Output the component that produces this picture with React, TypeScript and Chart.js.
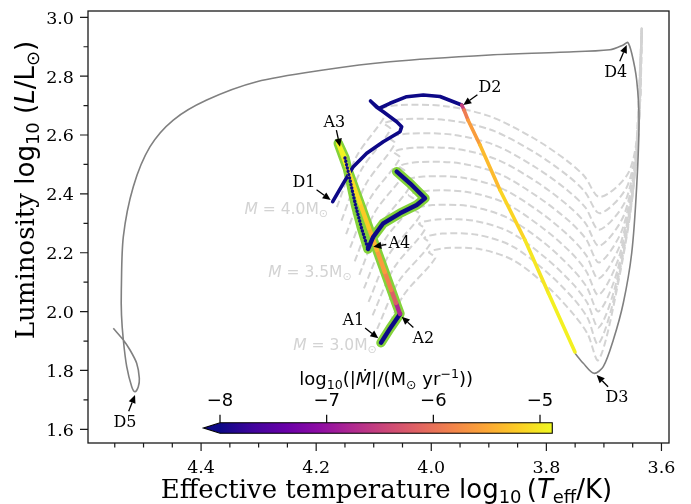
import React, { useEffect, useRef } from 'react';
import { Chart, registerables } from 'chart.js';
Chart.register(...registerables);

// ---------------- axes ----------------
const xLimits = [3.5869, 4.5965];
const yLimits = [1.5535, 3.0214];
const xMajorTicks = [4.4, 4.2, 4.0, 3.8, 3.6];
const xTickLabels = ['4.4', '4.2', '4.0', '3.8', '3.6'];
const xMinorTicks = [4.55, 4.5, 4.45, 4.35, 4.3, 4.25, 4.15, 4.1, 4.05, 3.95, 3.9, 3.85, 3.75, 3.7, 3.65];
const yMajorTicks = [1.6, 1.8, 2.0, 2.2, 2.4, 2.6, 2.8, 3.0];
const yTickLabels = ['1.6', '1.8', '2.0', '2.2', '2.4', '2.6', '2.8', '3.0'];
const yMinorTicks = [1.7, 1.9, 2.1, 2.3, 2.5, 2.7, 2.9];

// ---------------- colour bar ----------------
const cbarRange = [-8, -4.885];
const cbarTicks = [-8, -7, -6, -5];
const cbarTickLabels = ['\u22128', '\u22127', '\u22126', '\u22125'];

// ---------------- grey solid track (donor after mass transfer) ----------------
const greyTrackX = [3.7503, 3.7358, 3.7173, 3.7011, 3.6837, 3.6663, 3.6517, 3.6431, 3.639, 3.6431, 3.6517, 3.6587, 3.6663, 3.6895, 3.7763, 3.898, 4.0717, 4.1876, 4.3033, 4.3902, 4.4483, 4.4887, 4.5178, 4.5351, 4.5386, 4.5383, 4.5351, 4.5292, 4.5205, 4.5148, 4.5091, 4.5073, 4.5119, 4.5235, 4.5351, 4.5525];
const greyTrackY = [1.8583, 1.8243, 1.7903, 1.8128, 1.9035, 2.0292, 2.1991, 2.4244, 2.651, 2.787, 2.8777, 2.915, 2.9059, 2.8896, 2.8811, 2.8719, 2.8491, 2.8209, 2.7812, 2.719, 2.651, 2.5603, 2.4244, 2.2545, 2.0734, 1.9884, 1.9035, 1.8128, 1.7448, 1.7278, 1.7448, 1.7734, 1.8243, 1.8695, 1.9035, 1.9433];

// ---------------- donor ----------------
const donorX = [4.1713, 4.1529, 4.1355, 4.1122, 4.0834, 4.0543, 4.0514, 4.0601, 4.0834, 4.0948, 4.1056, 4.0908, 4.0717, 4.0427, 4.0139, 3.9848, 3.9471, 3.9431, 3.9362, 3.9153, 3.8806, 3.8372, 3.7963, 3.7503];
const donorY = [2.3734, 2.4359, 2.4924, 2.5379, 2.5773, 2.6113, 2.6283, 2.6453, 2.6792, 2.6942, 2.7156, 2.6901, 2.7078, 2.7302, 2.736, 2.7309, 2.702, 2.685, 2.651, 2.5661, 2.4132, 2.2433, 2.0622, 1.8627];
const donorMdot = [-9, -9, -9, -9, -9, -9, -9, -9, -9, -9, -9, -9, -9, -9, -9, -9, -6.5, -5.9, -5.6, -5.35, -5.15, -5.02, -4.95, -4.9];

// ---------------- accretor ----------------
const accretorX = [4.0874, 4.0717, 4.0543, 4.0613, 4.0695, 4.0808, 4.0945, 4.1084, 4.124, 4.1416, 4.1616, 4.1499, 4.1412, 4.1317, 4.1212, 4.11, 4.1007, 4.0834, 4.0543, 4.0253, 4.0109, 4.037, 4.0601];
const accretorY = [1.8943, 1.9426, 1.9919, 2.0292, 2.0734, 2.1346, 2.2093, 2.2841, 2.369, 2.4641, 2.5719, 2.5219, 2.4472, 2.3622, 2.2841, 2.2127, 2.2545, 2.300, 2.334, 2.3622, 2.385, 2.4359, 2.4754];
const accretorMdot = [-9, -9, -6.8, -6.2, -5.85, -5.6, -5.4, -5.22, -5.1, -4.98, -4.92, -9, -9, -9, -9, -9, -9, -9, -9, -9, -9, -9, -9];
const accretorBeadRange = [11, 15];

// ---------------- single-star grid tracks (dashed) ----------------
const gridMasses = ['4.0', '3.9', '3.8', '3.7', '3.6', '3.5', '3.4', '3.3', '3.2', '3.1', '3.0'];
const gridTrackX = [
  [4.164, 4.130, 4.080, 4.091, 4.053, 3.976, 3.899, 3.822, 3.765, 3.734, 3.707, 3.6564, 3.6385, 3.634],
  [4.156, 4.122, 4.071, 4.082, 4.045, 3.970, 3.894, 3.819, 3.763, 3.733, 3.707, 3.6589, 3.6394, 3.634],
  [4.148, 4.114, 4.063, 4.073, 4.036, 3.963, 3.890, 3.817, 3.762, 3.732, 3.708, 3.6615, 3.6401, 3.634],
  [4.141, 4.106, 4.054, 4.065, 4.029, 3.958, 3.886, 3.815, 3.761, 3.732, 3.708, 3.6639, 3.641, 3.634],
  [4.133, 4.098, 4.045, 4.056, 4.021, 3.951, 3.882, 3.812, 3.759, 3.731, 3.708, 3.6667, 3.6418, 3.634],
  [4.125, 4.090, 4.037, 4.047, 4.013, 3.945, 3.877, 3.809, 3.758, 3.731, 3.709, 3.6696, 3.6425, 3.634],
  [4.117, 4.081, 4.028, 4.039, 4.006, 3.940, 3.873, 3.807, 3.757, 3.731, 3.709, 3.6726, 3.6441, 3.634],
  [4.109, 4.073, 4.019, 4.030, 3.998, 3.933, 3.869, 3.804, 3.756, 3.730, 3.709, 3.6757, 3.6455, 3.634],
  [4.102, 4.065, 4.011, 4.021, 3.990, 3.927, 3.864, 3.801, 3.754, 3.729, 3.709, 3.6787, 3.6471, 3.634],
  [4.094, 4.057, 4.002, 4.012, 3.981, 3.920, 3.859, 3.798, 3.752, 3.728, 3.710, 3.6818, 3.6484, 3.634],
  [4.086, 4.049, 3.993, 4.004, 3.974, 3.915, 3.856, 3.796, 3.752, 3.728, 3.710, 3.6849, 3.65, 3.634],
];
const gridTrackY = [
  [2.355, 2.527, 2.668, 2.688, 2.702, 2.698, 2.664, 2.589, 2.514, 2.460, 2.389, 2.4754, 2.6762, 2.964],
  [2.309, 2.480, 2.619, 2.640, 2.654, 2.650, 2.616, 2.539, 2.462, 2.407, 2.334, 2.4285, 2.6487, 2.964],
  [2.263, 2.432, 2.571, 2.591, 2.605, 2.601, 2.566, 2.488, 2.410, 2.353, 2.278, 2.3809, 2.6208, 2.964],
  [2.217, 2.385, 2.522, 2.543, 2.557, 2.553, 2.517, 2.438, 2.358, 2.300, 2.223, 2.334, 2.5933, 2.964],
  [2.171, 2.338, 2.474, 2.494, 2.508, 2.504, 2.468, 2.386, 2.305, 2.246, 2.167, 2.2864, 2.5651, 2.964],
  [2.125, 2.290, 2.425, 2.445, 2.459, 2.455, 2.418, 2.335, 2.252, 2.192, 2.112, 2.2399, 2.5379, 2.964],
  [2.079, 2.243, 2.376, 2.397, 2.411, 2.407, 2.370, 2.285, 2.200, 2.138, 2.057, 2.193, 2.5104, 2.964],
  [2.033, 2.195, 2.328, 2.348, 2.362, 2.358, 2.320, 2.234, 2.147, 2.084, 2.001, 2.1454, 2.4822, 2.964],
  [1.987, 2.148, 2.279, 2.299, 2.313, 2.309, 2.271, 2.182, 2.094, 2.030, 1.946, 2.0985, 2.4546, 2.964],
  [1.941, 2.101, 2.230, 2.251, 2.265, 2.261, 2.222, 2.132, 2.042, 1.977, 1.890, 2.051, 2.4268, 2.964],
  [1.895, 2.053, 2.182, 2.202, 2.216, 2.212, 2.173, 2.081, 1.989, 1.923, 1.835, 2.0041, 2.3993, 2.964],
];

// ---------------- mass labels ----------------
const massLabelText = ['4.0', '3.5', '3.0'];
const massLabelX = [4.1795, 4.1383, 4.0948];
const massLabelY = [2.351, 2.1356, 1.8865];

// ---------------- annotations ----------------
const annotLabels = ['A1', 'A2', 'A3', 'A4', 'D1', 'D2', 'D3', 'D4', 'D5'];
const annotTipX = [4.092, 4.0514, 4.1586, 4.1007, 4.1748, 3.9444, 3.7126, 3.6604, 4.5148];
const annotTipY = [1.9093, 1.9827, 2.5603, 2.2205, 2.3792, 2.702, 1.7846, 2.9059, 1.7166];
const annotTextX = [4.1355, 4.0139, 4.1685, 4.0556, 4.2212, 3.898, 3.6773, 3.6795, 4.5322];
const annotTextY = [1.9749, 1.9147, 2.6487, 2.2355, 2.4448, 2.7676, 1.7132, 2.8186, 1.6293];

// ---------------- styling helpers ----------------
const SERIF = '"DejaVu Serif", serif';
const SANS = '"DejaVu Sans", sans-serif';
const plasmaStops = ['#0d0887', '#41049d', '#6a00a8', '#8f0da4', '#b12a90', '#cc4778', '#e16462', '#f2844b', '#fca636', '#fcce25', '#f0f921'];

function hexToRgb(h: string) {
  return [parseInt(h.slice(1, 3), 16), parseInt(h.slice(3, 5), 16), parseInt(h.slice(5, 7), 16)];
}
function plasma(t: number) {
  const tt = Math.max(0, Math.min(1, t));
  const s = tt * (plasmaStops.length - 1);
  const i = Math.min(plasmaStops.length - 2, Math.floor(s));
  const f = s - i;
  const a = hexToRgb(plasmaStops[i]);
  const b = hexToRgb(plasmaStops[i + 1]);
  const c = a.map((v, k) => Math.round(v + (b[k] - v) * f));
  return `rgb(${c[0]},${c[1]},${c[2]})`;
}
function mdotColor(v: number) {
  return plasma((v - cbarRange[0]) / (cbarRange[1] - cbarRange[0]));
}

type Run = { t: string; f: string; dy?: number };
function runsWidth(ctx: CanvasRenderingContext2D, runs: Run[]) {
  let w = 0;
  for (const r of runs) {
    ctx.font = r.f;
    w += ctx.measureText(r.t).width;
  }
  return w;
}
function drawRuns(ctx: CanvasRenderingContext2D, runs: Run[], x: number, y: number, align: string, color: string) {
  const w = runsWidth(ctx, runs);
  let cx = align === 'center' ? x - w / 2 : align === 'right' ? x - w : x;
  ctx.fillStyle = color;
  ctx.textAlign = 'left';
  ctx.textBaseline = 'alphabetic';
  for (const r of runs) {
    ctx.font = r.f;
    ctx.fillText(r.t, cx, y + (r.dy || 0));
    cx += ctx.measureText(r.t).width;
  }
}

function drawArrow(ctx: CanvasRenderingContext2D, tx: number, ty: number, px: number, py: number) {
  const dx = px - tx;
  const dy = py - ty;
  const len = Math.hypot(dx, dy);
  const ux = dx / len;
  const uy = dy / len;
  const hw = 12;
  const hh = 8.5;
  const tEdge = Math.min(Math.abs(ux) > 1e-6 ? hw / Math.abs(ux) : 1e9, Math.abs(uy) > 1e-6 ? hh / Math.abs(uy) : 1e9) + 1;
  const sx = tx + ux * tEdge;
  const sy = ty + uy * tEdge;
  const headL = 8;
  const headW = 3.6;
  const bx = px - ux * headL;
  const by = py - uy * headL;
  ctx.strokeStyle = '#000';
  ctx.lineWidth = 1.3;
  ctx.beginPath();
  ctx.moveTo(sx, sy);
  ctx.lineTo(bx, by);
  ctx.stroke();
  ctx.fillStyle = '#000';
  ctx.beginPath();
  ctx.moveTo(px, py);
  ctx.lineTo(bx - uy * headW, by + ux * headW);
  ctx.lineTo(bx + uy * headW, by - ux * headW);
  ctx.closePath();
  ctx.fill();
}

const decorPlugin = {
  id: 'decor',
  afterDatasetsDraw(chart: any) {
    const ctx: CanvasRenderingContext2D = chart.ctx;
    const xs = chart.scales.x;
    const ys = chart.scales.y;
    ctx.save();
    massLabelText.forEach((m, i) => {
      const px = xs.getPixelForValue(massLabelX[i]);
      const py = ys.getPixelForValue(massLabelY[i]);
      drawRuns(ctx, [
        { t: 'M', f: `italic 15.5px ${SANS}` },
        { t: ' = ', f: `15.5px ${SANS}` },
        { t: m + 'M', f: `15.5px ${SANS}` },
        { t: '\u2299', f: `11px ${SANS}`, dy: 3 },
      ], px, py + 5.5, 'right', '#d3d3d3');
    });
    annotLabels.forEach((lab, i) => {
      const tx = xs.getPixelForValue(annotTextX[i]);
      const ty = ys.getPixelForValue(annotTextY[i]);
      const px = xs.getPixelForValue(annotTipX[i]);
      const py = ys.getPixelForValue(annotTipY[i]);
      drawArrow(ctx, tx, ty, px, py);
      ctx.font = `16px ${SERIF}`;
      ctx.fillStyle = '#000';
      ctx.textAlign = 'center';
      ctx.textBaseline = 'alphabetic';
      ctx.fillText(lab, tx, ty + 6);
    });
    ctx.restore();
  },
  afterDraw(chart: any) {
    const ctx: CanvasRenderingContext2D = chart.ctx;
    const xs = chart.scales.x;
    const ys = chart.scales.y;
    const a = chart.chartArea;
    const W = a.right - a.left;
    const H = a.bottom - a.top;
    ctx.save();
    ctx.strokeStyle = '#1a1a1a';
    ctx.lineWidth = 1.3;
    ctx.strokeRect(a.left, a.top, W, H);
    ctx.lineWidth = 1.2;
    ctx.beginPath();
    xMajorTicks.forEach((v) => {
      const p = xs.getPixelForValue(v);
      ctx.moveTo(p, a.bottom);
      ctx.lineTo(p, a.bottom + 8);
    });
    xMinorTicks.forEach((v) => {
      const p = xs.getPixelForValue(v);
      ctx.moveTo(p, a.bottom);
      ctx.lineTo(p, a.bottom + 4.5);
    });
    yMajorTicks.forEach((v) => {
      const p = ys.getPixelForValue(v);
      ctx.moveTo(a.left, p);
      ctx.lineTo(a.left - 8, p);
    });
    yMinorTicks.forEach((v) => {
      const p = ys.getPixelForValue(v);
      ctx.moveTo(a.left, p);
      ctx.lineTo(a.left - 4.5, p);
    });
    ctx.stroke();
    ctx.fillStyle = '#000';
    ctx.font = `17.5px ${SERIF}`;
    ctx.textBaseline = 'alphabetic';
    ctx.textAlign = 'center';
    xMajorTicks.forEach((v, i) => {
      ctx.fillText(xTickLabels[i], xs.getPixelForValue(v), a.bottom + 29.7);
    });
    ctx.textAlign = 'right';
    yMajorTicks.forEach((v, i) => {
      ctx.fillText(yTickLabels[i], a.left - 14, ys.getPixelForValue(v) + 6.4);
    });
    drawRuns(ctx, [
      { t: 'Effective temperature ', f: `26px ${SERIF}` },
      { t: 'log', f: `26px ${SANS}` },
      { t: '10', f: `18px ${SANS}`, dy: 5 },
      { t: '\u2009(', f: `26px ${SANS}` },
      { t: 'T', f: `italic 26px ${SANS}` },
      { t: 'eff', f: `18px ${SANS}`, dy: 5 },
      { t: '/K)', f: `26px ${SANS}` },
    ], (a.left + a.right) / 2 + 8, 498, 'center', '#000');
    ctx.save();
    ctx.translate(33.5, 190);
    ctx.rotate(-Math.PI / 2);
    drawRuns(ctx, [
      { t: 'Luminosity ', f: `26px ${SERIF}` },
      { t: 'log', f: `26px ${SANS}` },
      { t: '10', f: `18px ${SANS}`, dy: 5 },
      { t: ' (', f: `26px ${SANS}` },
      { t: 'L', f: `italic 26px ${SANS}` },
      { t: '/L', f: `26px ${SANS}` },
      { t: '\u2299', f: `18px ${SANS}`, dy: 5 },
      { t: ')', f: `26px ${SANS}` },
    ], 0, 0, 'center', '#000');
    ctx.restore();

    const x0 = a.left + 0.2272 * W;
    const x1 = a.left + 0.7991 * W;
    const y0 = a.top + 0.953 * H;
    const bh = 10.6;
    const tipX = x0 - 0.05 * (x1 - x0);
    const grad = ctx.createLinearGradient(x0, 0, x1, 0);
    plasmaStops.forEach((c, i) => grad.addColorStop(i / (plasmaStops.length - 1), c));
    ctx.fillStyle = grad;
    ctx.fillRect(x0, y0, x1 - x0, bh);
    ctx.fillStyle = plasmaStops[0];
    ctx.beginPath();
    ctx.moveTo(tipX, y0 + bh / 2);
    ctx.lineTo(x0 + 0.5, y0);
    ctx.lineTo(x0 + 0.5, y0 + bh);
    ctx.closePath();
    ctx.fill();
    ctx.strokeStyle = '#000';
    ctx.lineWidth = 1.1;
    ctx.beginPath();
    ctx.moveTo(tipX, y0 + bh / 2);
    ctx.lineTo(x0, y0);
    ctx.lineTo(x1, y0);
    ctx.lineTo(x1, y0 + bh);
    ctx.lineTo(x0, y0 + bh);
    ctx.closePath();
    ctx.stroke();
    ctx.beginPath();
    ctx.lineWidth = 1.2;
    cbarTicks.forEach((v) => {
      const p = x0 + ((v - cbarRange[0]) / (cbarRange[1] - cbarRange[0])) * (x1 - x0);
      ctx.moveTo(p, y0);
      ctx.lineTo(p, y0 - 8);
    });
    ctx.stroke();
    ctx.fillStyle = '#000';
    ctx.font = `18px ${SANS}`;
    ctx.textAlign = 'center';
    cbarTicks.forEach((v, i) => {
      const p = x0 + ((v - cbarRange[0]) / (cbarRange[1] - cbarRange[0])) * (x1 - x0);
      ctx.fillText(cbarTickLabels[i], p, y0 - 17);
    });
    drawRuns(ctx, [
      { t: 'log', f: `18px ${SANS}` },
      { t: '10', f: `12.6px ${SANS}`, dy: 4 },
      { t: '(|', f: `18px ${SANS}` },
      { t: '\u1E40', f: `italic 18px ${SANS}` },
      { t: '|/(M', f: `18px ${SANS}` },
      { t: '\u2299', f: `12.6px ${SANS}`, dy: 4 },
      { t: ' yr', f: `18px ${SANS}` },
      { t: '\u22121', f: `12.6px ${SANS}`, dy: -7 },
      { t: '))', f: `18px ${SANS}` },
    ], (x0 + x1) / 2, y0 - 37.7, 'center', '#000');
    ctx.restore();
  },
};

function pts(xs: number[], ys: number[]) {
  return xs.map((x, i) => ({ x, y: ys[i] }));
}

export default function App() {
  const ref = useRef<HTMLCanvasElement | null>(null);
  useEffect(() => {
    if (!ref.current) return;
    const inBeads = (i: number) => i >= accretorBeadRange[0] && i < accretorBeadRange[1];
    const datasets: any[] = [];
    gridTrackX.forEach((tx, k) => {
      datasets.push({
        label: `M=${gridMasses[k]}`,
        data: pts(tx, gridTrackY[k]),
        showLine: true,
        borderColor: '#d3d3d3',
        borderWidth: 2,
        borderDash: [7, 3.5],
        pointRadius: 0,
        tension: 0.3,
        order: 10,
      });
    });
    datasets.push({
      label: 'donor late',
      data: pts(greyTrackX, greyTrackY),
      showLine: true,
      borderColor: '#808080',
      borderWidth: 1.6,
      pointRadius: 0,
      tension: 0.3,
      order: 8,
    });
    datasets.push({
      label: 'accretor outline',
      data: pts(accretorX, accretorY),
      showLine: true,
      borderColor: '#84d23a',
      borderWidth: 9.5,
      borderCapStyle: 'round',
      borderJoinStyle: 'round',
      pointRadius: 0,
      order: 6,
    });
    datasets.push({
      label: 'donor',
      data: pts(donorX, donorY),
      showLine: true,
      borderColor: '#0d0887',
      borderWidth: 3.6,
      borderCapStyle: 'round',
      borderJoinStyle: 'round',
      pointRadius: 0,
      segment: { borderColor: (c: any) => mdotColor(donorMdot[c.p0DataIndex]) },
      order: 5,
    });
    datasets.push({
      label: 'accretor',
      data: pts(accretorX, accretorY),
      showLine: true,
      borderColor: '#0d0887',
      borderWidth: 4.4,
      borderCapStyle: 'round',
      borderJoinStyle: 'round',
      pointRadius: 0,
      segment: {
        borderColor: (c: any) => mdotColor(accretorMdot[c.p0DataIndex]),
        borderWidth: (c: any) => (inBeads(c.p0DataIndex) ? 3.4 : 4.4),
        borderDash: (c: any) => (inBeads(c.p0DataIndex) ? [0.01, 3.4] : undefined),
      },
      order: 4,
    });

    const chart = new Chart(ref.current, {
      type: 'scatter',
      data: { datasets },
      options: {
        animation: false,
        responsive: false,
        devicePixelRatio: 1,
        events: [],
        layout: { padding: { left: 0, right: 22, top: 11, bottom: 0 } },
        plugins: { legend: { display: false }, tooltip: { enabled: false } },
        scales: {
          x: {
            type: 'linear',
            reverse: true,
            min: xLimits[0],
            max: xLimits[1],
            grid: { display: false },
            border: { display: false },
            ticks: { display: false },
            afterFit: (s: any) => { s.height = 61; },
          },
          y: {
            type: 'linear',
            min: yLimits[0],
            max: yLimits[1],
            grid: { display: false },
            border: { display: false },
            ticks: { display: false },
            afterFit: (s: any) => { s.width = 88; },
          },
        },
      } as any,
      plugins: [decorPlugin],
    });
    return () => chart.destroy();
  }, []);
  return (
    <div style={{ position: 'fixed', left: 0, top: 0, width: 691, height: 504, background: '#fff' }}>
      <canvas ref={ref} width={691} height={504} style={{ display: 'block' }} />
    </div>
  );
}
